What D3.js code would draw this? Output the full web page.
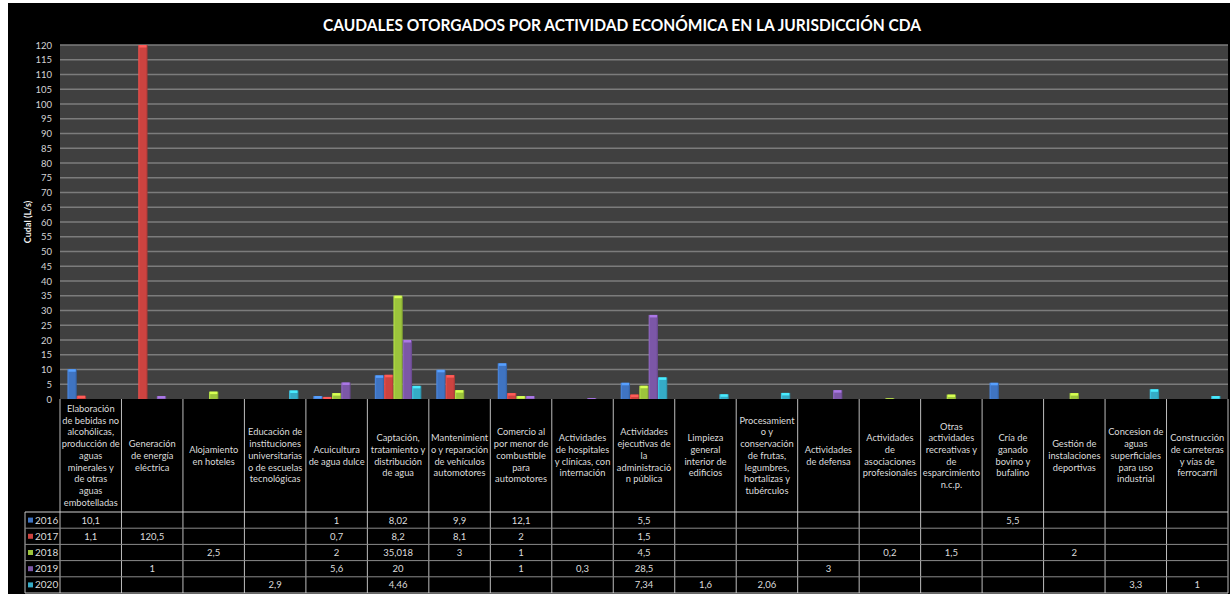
<!DOCTYPE html>
<html>
<head>
<meta charset="utf-8">
<script src="https://cdn.jsdelivr.net/npm/d3@7"></script>
<style>
  html, body { margin: 0; padding: 0; background: #ffffff; }
  svg { display: block; }
  text { font-family: Lato, "Open Sans", "DejaVu Sans", sans-serif; }
</style>
</head>
<body>
<svg id="chart" width="1230" height="594"></svg>
<script>
// ---------- DATA ----------
const title = "CAUDALES OTORGADOS POR ACTIVIDAD ECONÓMICA EN LA JURISDICCIÓN CDA";
const yAxisLabel = "Cudal (L/s)";
const categories = [
  ["Elaboración", "de bebidas no", "alcohólicas,", "producción de", "aguas", "minerales y", "de otras", "aguas", "embotelladas"],
  ["Generación", "de energía", "eléctrica"],
  ["Alojamiento", "en hoteles"],
  ["Educación de", "instituciones", "universitarias", "o de escuelas", "tecnológicas"],
  ["Acuicultura", "de agua dulce"],
  ["Captación,", "tratamiento y", "distribución", "de agua"],
  ["Mantenimient", "o y reparación", "de vehículos", "automotores"],
  ["Comercio al", "por menor de", "combustible", "para", "automotores"],
  ["Actividades", "de hospitales", "y clínicas, con", "internación"],
  ["Actividades", "ejecutivas de", "la", "administració", "n pública"],
  ["Limpieza", "general", "interior de", "edificios"],
  ["Procesamient", "o y", "conservación", "de frutas,", "legumbres,", "hortalizas y", "tubérculos"],
  ["Actividades", "de defensa"],
  ["Actividades", "de", "asociaciones", "profesionales"],
  ["Otras", "actividades", "recreativas y", "de", "esparcimiento", "n.c.p."],
  ["Cría de", "ganado", "bovino y", "bufalino"],
  ["Gestión de", "instalaciones", "deportivas"],
  ["Concesion de", "aguas", "superficiales", "para uso", "industrial"],
  ["Construcción", "de carreteras", "y vías de", "ferrocarril"]
];
const years = ["2016", "2017", "2018", "2019", "2020"];
const values2016 = [10.1, null, null, null, 1, 8.02, 9.9, 12.1, null, 5.5, null, null, null, null, null, 5.5, null, null, null];
const values2017 = [1.1, 120.5, null, null, 0.7, 8.2, 8.1, 2, null, 1.5, null, null, null, null, null, null, null, null, null];
const values2018 = [null, null, 2.5, null, 2, 35.018, 3, 1, null, 4.5, null, null, null, 0.2, 1.5, null, 2, null, null];
const values2019 = [null, 1, null, null, 5.6, 20, null, 1, 0.3, 28.5, null, null, 3, null, null, null, null, null, null];
const values2020 = [null, null, null, 2.9, null, 4.46, null, null, null, 7.34, 1.6, 2.06, null, null, null, null, null, 3.3, 1];
const yTicks = d3.range(0, 121, 5);
const seriesColors = ["#3f74c2", "#cc4340", "#9cc43c", "#7c57a7", "#35abc6"];

// ---------- LAYOUT ----------
const series = [values2016, values2017, values2018, values2019, values2020];
const svg = d3.select("#chart");
const plotL = 60, plotR = 1228, plotT = 45, plotB = 399;
const headerB = 512, tableB = 593, legendL = 25;
const rowH = (tableB - headerB) / years.length;
const catIdx = categories.map((d, i) => i);

const x = d3.scaleBand().domain(catIdx).range([plotL, plotR]).paddingInner(0).paddingOuter(0);
const xs = d3.scaleBand().domain(years).range([0, x.bandwidth()]).paddingInner(0).paddingOuter(0.8);
const y = d3.scaleLinear().domain([0, 120]).range([plotB, plotT]);
const rowY = d3.scaleBand().domain(years).range([headerB, tableB]);

// background
svg.append("rect").attr("x", 8).attr("y", 3).attr("width", 1222).attr("height", 591).attr("fill", "#000");

// title
svg.append("text").attr("x", 622).attr("y", 31).attr("text-anchor", "middle")
  .attr("fill", "#ffffff").attr("font-size", 17).attr("font-weight", "bold")
  .attr("textLength", 598).attr("lengthAdjust", "spacingAndGlyphs")
  .text(title);

// plot area
svg.append("rect").attr("x", plotL).attr("y", plotT).attr("width", plotR - plotL).attr("height", plotB - plotT).attr("fill", "#404040");

// gridlines
svg.append("g").selectAll("line").data(yTicks.filter(t => t > 0)).join("line")
  .attr("x1", plotL).attr("x2", plotR)
  .attr("y1", d => y(d)).attr("y2", d => y(d))
  .attr("stroke", "#7c7c7c").attr("stroke-width", 1.3);

// y axis
const yAxis = d3.axisLeft(y).tickValues(yTicks).tickSize(0).tickPadding(8);
const gy = svg.append("g").attr("transform", `translate(${plotL},0)`).call(yAxis);
gy.select(".domain").remove();
gy.selectAll("text").attr("fill", "#d4d4d4").attr("font-size", 9.5).style("font-family", "Lato, 'Open Sans', sans-serif");

svg.append("text").attr("transform", `translate(31,222) rotate(-90)`)
  .attr("text-anchor", "middle").attr("fill", "#f0f0f0").attr("font-size", 9).attr("font-weight", "bold")
  .text(yAxisLabel);

// gradients
const defs = svg.append("defs");
seriesColors.forEach((c, i) => {
  const g = defs.append("linearGradient").attr("id", "grad" + i).attr("x1", "0").attr("x2", "1").attr("y1", "0").attr("y2", "0");
  const base = d3.color(c);
  g.append("stop").attr("offset", "0%").attr("stop-color", base.brighter(0.5));
  g.append("stop").attr("offset", "20%").attr("stop-color", base);
  g.append("stop").attr("offset", "80%").attr("stop-color", base);
  g.append("stop").attr("offset", "100%").attr("stop-color", base.darker(0.6));
});
defs.append("clipPath").attr("id", "plotClip").append("rect")
  .attr("x", plotL).attr("y", plotT).attr("width", plotR - plotL).attr("height", plotB - plotT);

// bars
const barsG = svg.append("g").attr("clip-path", "url(#plotClip)");
years.forEach((yr, si) => {
  const data = series[si].map((v, ci) => ({ v, ci })).filter(d => d.v !== null);
  const g = barsG.append("g");
  g.selectAll("rect.bar").data(data).join("rect").attr("class", "bar")
    .attr("x", d => x(d.ci) + xs(yr))
    .attr("width", xs.bandwidth())
    .attr("y", d => y(d.v))
    .attr("height", d => plotB - y(d.v))
    .attr("fill", `url(#grad${si})`);
  g.selectAll("rect.cap").data(data).join("rect").attr("class", "cap")
    .attr("x", d => x(d.ci) + xs(yr) + 1)
    .attr("width", xs.bandwidth() - 2)
    .attr("y", d => Math.max(y(d.v), plotT))
    .attr("height", d => Math.min(2.5, plotB - y(d.v)))
    .attr("fill", d3.color(seriesColors[si]).brighter(0.9));
});

// table
const tableG = svg.append("g");
const lineColor = "#bdbdbd";
tableG.selectAll("line.v").data(d3.range(categories.length + 1)).join("line").attr("class", "v")
  .attr("x1", i => i < categories.length ? x(i) : plotR)
  .attr("x2", i => i < categories.length ? x(i) : plotR)
  .attr("y1", plotB).attr("y2", tableB)
  .attr("stroke", lineColor).attr("stroke-width", 1);
tableG.append("line").attr("x1", legendL).attr("x2", legendL).attr("y1", headerB).attr("y2", tableB)
  .attr("stroke", lineColor).attr("stroke-width", 1);
tableG.selectAll("line.h").data(years.map(yr => rowY(yr)).concat([tableB])).join("line").attr("class", "h")
  .attr("x1", legendL).attr("x2", plotR)
  .attr("y1", d => d).attr("y2", d => d)
  .attr("stroke", (d, i) => i === 0 || i === years.length ? "#d0d0d0" : "#8a8a8a").attr("stroke-width", 1);

// header text
const lineH = 11.7;
const headerMid = (plotB + headerB) / 2;
categories.forEach((lines, ci) => {
  const t = tableG.append("text").attr("text-anchor", "middle").attr("fill", "#dcdcdc").attr("font-size", 9.3);
  const startY = headerMid - (lines.length - 1) * lineH / 2 + 3.3;
  lines.forEach((ln, li) => {
    t.append("tspan").attr("x", x(ci) + x.bandwidth() / 2).attr("y", startY + li * lineH).text(ln);
  });
});

// values
const fmt = v => String(v).replace(".", ",");
years.forEach((yr, si) => {
  const cy = rowY(yr) + rowH / 2;
  tableG.selectAll(null).data(series[si].map((v, ci) => ({ v, ci })).filter(d => d.v !== null)).join("text")
    .attr("x", d => x(d.ci) + x.bandwidth() / 2).attr("y", cy + 3.5)
    .attr("text-anchor", "middle").attr("fill", "#dcdcdc").attr("font-size", 9.5)
    .text(d => fmt(d.v));
  tableG.append("rect").attr("x", 28).attr("y", cy - 2.5).attr("width", 5).attr("height", 5)
    .attr("fill", seriesColors[si]);
  tableG.append("text").attr("x", 35).attr("y", cy + 3.5).attr("fill", "#dcdcdc").attr("font-size", 10).text(yr);
});
</script>
</body>
</html>
